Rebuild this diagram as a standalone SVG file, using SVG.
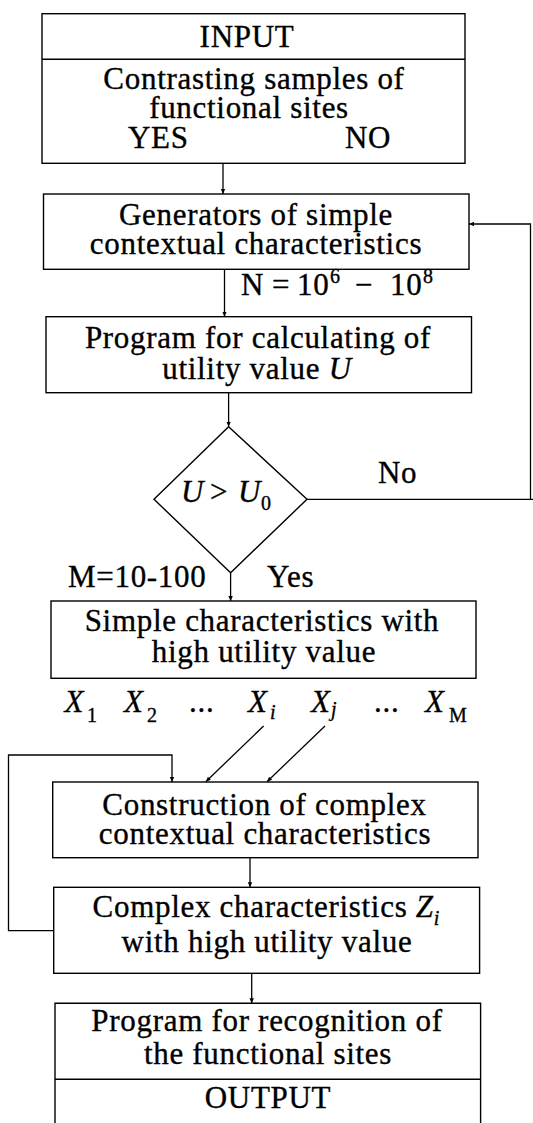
<svg xmlns="http://www.w3.org/2000/svg" width="533" height="1123" viewBox="0 0 533 1123">
<style>
text{font-family:"Liberation Serif","Times New Roman",serif;font-size:31px;letter-spacing:0.7px;fill:#000;stroke:#000;stroke-width:0.35}
.c{text-anchor:middle}
.it{font-style:italic}
.sub{font-size:20px;letter-spacing:0}
.box{fill:none;stroke:#000;stroke-width:1.4}
.ln{fill:none;stroke:#000;stroke-width:1.3}
</style>
<defs>
<marker id="ah" markerUnits="userSpaceOnUse" markerWidth="6" markerHeight="6" refX="5" refY="3" orient="auto">
<path d="M0,0.8 L5,3 L0,5.2 z" fill="#000"/>
</marker>
</defs>
<rect width="533" height="1123" fill="#fff"/>

<g id="connectors">
<path class="ln" d="M223,163.3 V194" marker-end="url(#ah)"/>
<path class="ln" d="M224.5,269.3 V316.7" marker-end="url(#ah)"/>
<path class="ln" d="M228.6,392.7 V426.7" marker-end="url(#ah)"/>
<path class="ln" d="M230.6,572.7 V601" marker-end="url(#ah)"/>
<path class="ln" d="M307,499.3 H533 M530.5,499.3 V224 H469" marker-end="url(#ah)"/>
<path class="ln" d="M263.6,726 L205.8,781.7" marker-end="url(#ah)"/>
<path class="ln" d="M325,726 L267,781.7" marker-end="url(#ah)"/>
<path class="ln" d="M250,857.7 V887.3" marker-end="url(#ah)"/>
<path class="ln" d="M53.7,930.7 H8.5 V755 H172 V782" marker-end="url(#ah)"/>
<path class="ln" d="M251.7,973.3 V1003.3" marker-end="url(#ah)"/>
<text x="241" y="294.5">N<tspan x="272">=</tspan><tspan x="297">10</tspan><tspan x="330" dy="-12" class="sub">6</tspan><tspan x="355" dy="12">−</tspan><tspan x="390">10</tspan><tspan x="423" dy="-12" class="sub">8</tspan></text>
<text x="378" y="483.3">No</text>
<text x="68" y="586.7">M=10-100</text>
<text x="267" y="586.7">Yes</text>
</g>

<g id="input">
<rect class="box" x="42" y="13.7" width="423" height="149.6"/>
<line class="box" x1="42" y1="59.3" x2="465" y2="59.3"/>
<text class="c" x="247" y="46.7">INPUT</text>
<text class="c" x="254" y="88.5">Contrasting samples of<tspan x="249" y="117.8">functional sites</tspan></text>
<text x="128" y="148.3">YES<tspan x="345">NO</tspan></text>
</g>

<g id="generators">
<rect class="box" x="43.5" y="194" width="425.5" height="75.3"/>
<text class="c" x="256" y="224.5">Generators of simple<tspan x="256" y="253.5">contextual characteristics</tspan></text>
</g>

<g id="program-u">
<rect class="box" x="46" y="316.7" width="425.5" height="76"/>
<text class="c" x="258" y="348">Program for calculating of<tspan x="257" y="378.5">utility value </tspan><tspan class="it">U</tspan></text>
</g>

<g id="decision">
<path class="box" d="M228.6,426.7 L307,499.3 L230.6,572.7 L154,499.3 Z"/>
<text x="181" y="502"><tspan class="it">U</tspan><tspan x="210">&gt;</tspan><tspan x="238" class="it">U</tspan><tspan x="261" dy="8" class="sub">0</tspan></text>
</g>

<g id="simple">
<rect class="box" x="51" y="601" width="425" height="77.3"/>
<text class="c" x="262" y="631.2">Simple characteristics with<tspan x="264" y="662">high utility value</tspan></text>
</g>

<g id="xlabels">
<text x="64.6" y="711.7"><tspan class="it">X</tspan><tspan x="87" dy="10" class="sub">1</tspan><tspan x="124" dy="-10" class="it">X</tspan><tspan x="147" dy="10" class="sub">2</tspan><tspan x="189" dy="-10">...</tspan><tspan x="248" class="it">X</tspan><tspan x="270" dy="7" class="sub it">i</tspan><tspan x="311" dy="-7" class="it">X</tspan><tspan x="331" dy="4" class="sub it">j</tspan><tspan x="374" dy="-4">...</tspan><tspan x="425" class="it">X</tspan><tspan x="449" dy="10" class="sub">M</tspan></text>
</g>

<g id="construction">
<rect class="box" x="52.7" y="782" width="425.3" height="75.7"/>
<text class="c" x="264.5" y="814.5">Construction of complex<tspan x="265" y="843.5">contextual characteristics</tspan></text>
</g>

<g id="complex">
<rect class="box" x="53.7" y="887.3" width="425.9" height="86"/>
<text class="c" x="266" y="916.7">Complex characteristics <tspan class="it">Z</tspan><tspan class="sub it" dy="8">i</tspan><tspan x="267" y="951.7">with high utility value</tspan></text>
</g>

<g id="recognition">
<path class="box" d="M55,1123 V1003.3 H480.6 V1123"/>
<line class="box" x1="55" y1="1079.3" x2="480.6" y2="1079.3"/>
<text class="c" x="267" y="1031.2">Program for recognition of<tspan x="268" y="1063.5">the functional sites</tspan></text>
<text class="c" x="268" y="1108.3">OUTPUT</text>
</g>
</svg>
